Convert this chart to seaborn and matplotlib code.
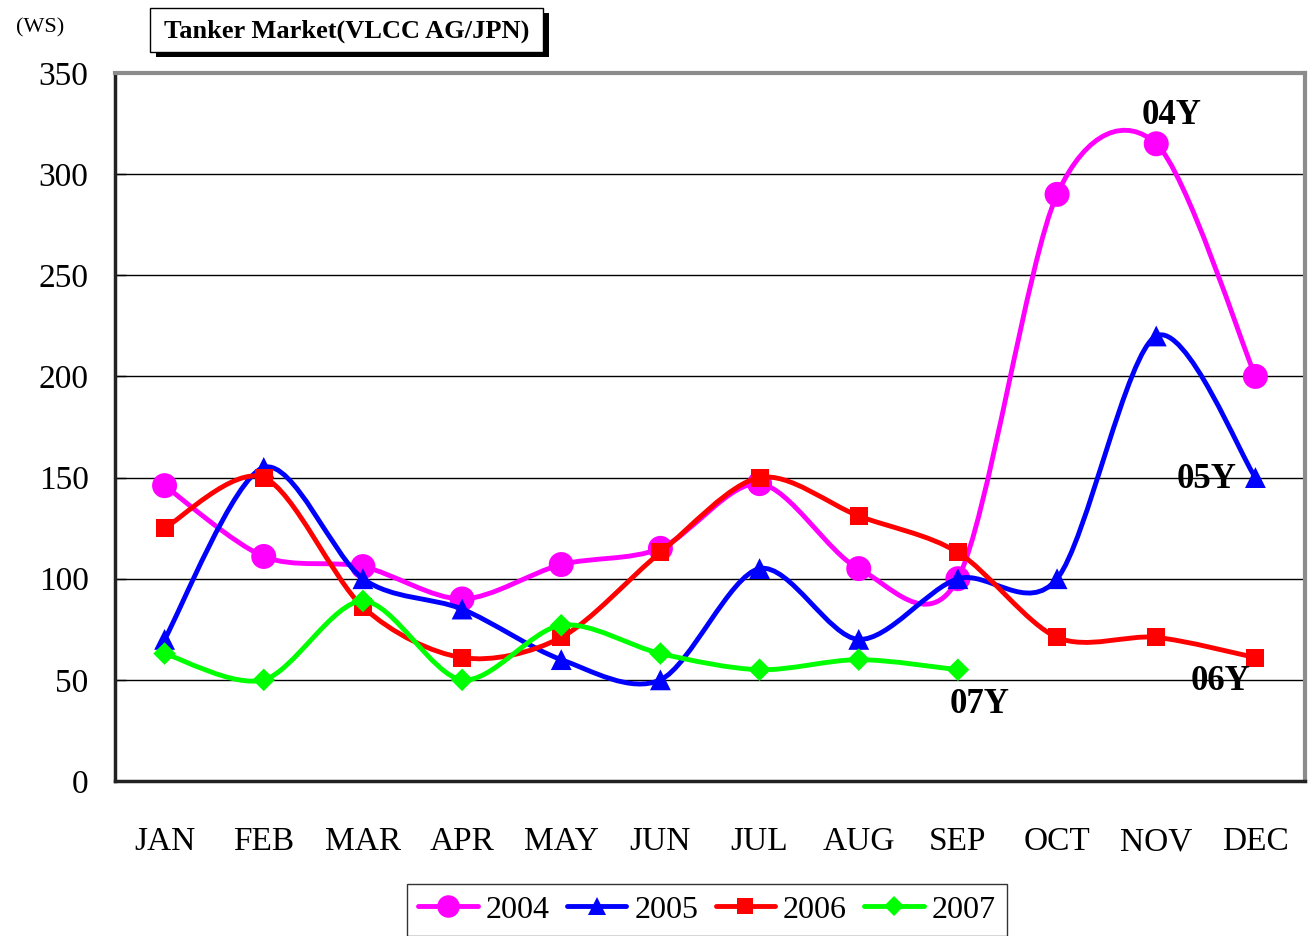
#importing necessary libraries
import numpy as np
import pandas as pd
import matplotlib
matplotlib.use("Agg")
import matplotlib.pyplot as plt
from matplotlib.path import Path
from matplotlib.patches import PathPatch, Rectangle
from matplotlib.lines import Line2D
import seaborn as sns

#chart data (WS rates, VLCC AG/JPN)
months = ["JAN", "FEB", "MAR", "APR", "MAY", "JUN",
          "JUL", "AUG", "SEP", "OCT", "NOV", "DEC"]
ws_2004 = [146, 111, 106, 90, 107, 115, 147, 105, 100, 290, 315, 200]
ws_2005 = [70, 155, 100, 85, 60, 50, 105, 70, 100, 100, 220, 150]
ws_2006 = [125, 150, 86, 61, 71, 113, 150, 131, 113, 71, 71, 61]
ws_2007 = [63, 50, 89, 50, 77, 63, 55, 60, 55]
years = ["2004", "2005", "2006", "2007"]
year_tags = ["04Y", "05Y", "06Y", "07Y"]
y_ticks = [0, 50, 100, 150, 200, 250, 300, 350]

#long table for seaborn
rows = []
for yr, vals in zip(years, [ws_2004, ws_2005, ws_2006, ws_2007]):
    for i, v in enumerate(vals):
        rows.append({"year": yr, "pos": i, "month": months[i], "ws": v})
df = pd.DataFrame(rows)

sns.set_style("white")
plt.rcParams['font.family'] = ['Liberation Serif', 'DejaVu Serif']
plt.rcParams['text.color'] = 'black'
plt.rcParams['xtick.color'] = 'black'
plt.rcParams['ytick.color'] = 'black'

colors = {"2004": "#ff00ff", "2005": "#0000ff", "2006": "#ff0000", "2007": "#00ff00"}
mk = {"2004": "o", "2005": "^", "2006": "s", "2007": "D"}
msz = {"2004": 18, "2005": 15, "2006": 13, "2007": 11.5}

fig = plt.figure(figsize=(13.08, 9.36), dpi=100)
ax = fig.add_axes([115/1308, 1-781/936, 1190/1308, (781-73)/936])


def smooth_path(xs, ys, k=0.15):
    #excel-like smoothed line: cubic bezier through the points
    pts = np.column_stack([xs, ys]).astype(float)
    n = len(pts)
    verts = [pts[0]]
    codes = [Path.MOVETO]
    for i in range(n - 1):
        p0 = pts[max(i - 1, 0)]
        p1 = pts[i]
        p2 = pts[i + 1]
        p3 = pts[min(i + 2, n - 1)]
        c1 = p1 + (p2 - p0) * k
        c2 = p2 - (p3 - p1) * k
        verts += [c1, c2, p2]
        codes += [Path.CURVE4] * 3
    return Path(verts, codes)


for z, yr in enumerate(years):
    sub = df[df["year"] == yr]
    patch = PathPatch(smooth_path(sub["pos"], sub["ws"]), fill=False,
                      edgecolor=colors[yr], lw=3.5, capstyle="round",
                      joinstyle="round", zorder=3 + 2 * z)
    ax.add_patch(patch)
    sns.scatterplot(data=sub, x="pos", y="ws", marker=mk[yr], s=msz[yr] ** 2,
                    color=colors[yr], edgecolor="none", linewidth=0,
                    zorder=4 + 2 * z, ax=ax, legend=False)

#axes styling
ax.set_xlim(-0.5, 11.5)
ax.set_ylim(0, 350)
ax.set_xticks(range(12))
ax.set_xticklabels(months)
ax.set_xticks(np.arange(0.5, 11.5, 1.0), minor=True)
ax.set_yticks(y_ticks)
ax.set_xlabel("")
ax.set_ylabel("")
ax.tick_params(axis="x", which="major", length=0, pad=33, labelsize=24)
ax.tick_params(axis="x", which="minor", direction="in", length=8, width=1, color="black")
ax.tick_params(axis="y", direction="in", length=8, width=1, color="black", pad=19, labelsize=24, left=True)
ax.grid(False)
for v in y_ticks[1:-1]:
    ax.axhline(v, color="black", lw=1, zorder=1)
for side in ["top", "right"]:
    ax.spines[side].set_color("#8c8c8c")
    ax.spines[side].set_linewidth(3)
for side in ["left", "bottom"]:
    ax.spines[side].set_color("#222222")
    ax.spines[side].set_linewidth(2.5)

#year tags
tag_pos = [(10.15, 329), (10.51, 149), (10.65, 49), (8.22, 38)]
for tag, (tx, ty) in zip(year_tags, tag_pos):
    ax.text(tx, ty, tag, ha="center", va="center", fontsize=25, fontweight="bold", zorder=20)

#title box with shadow
fig.patches.append(Rectangle((156/1308, 1-57/936), 393/1308, 44/936,
                             transform=fig.transFigure, fc="black", ec="none", zorder=1))
fig.patches.append(Rectangle((150/1308, 1-52/936), 393/1308, 44/936,
                             transform=fig.transFigure, fc="white", ec="black", lw=1, zorder=2))
fig.text(347/1308, 1-31/936, "Tanker Market(VLCC AG/JPN)", ha="center", va="center",
         fontsize=19, fontweight="bold", zorder=3)
fig.text(40/1308, 1-28/936, "(WS)", ha="center", va="center", fontsize=16)

#legend
handles = [Line2D([0], [0], color=colors[yr], lw=3.5, marker=mk[yr],
                  markersize=msz[yr] * 0.9, markeredgewidth=0, solid_capstyle="round")
           for yr in years]
leg = fig.legend(handles, years, loc="upper center", bbox_to_anchor=(707/1308, 1-884/936),
                 ncol=4, frameon=True, fancybox=False, fontsize=23, handlelength=1.85,
                 handletextpad=0.25, columnspacing=0.55, borderpad=0.35, borderaxespad=0)
leg.get_frame().set_edgecolor("black")
leg.get_frame().set_linewidth(1)

fig.savefig("out.png", dpi=100)
print("saved out.png")
